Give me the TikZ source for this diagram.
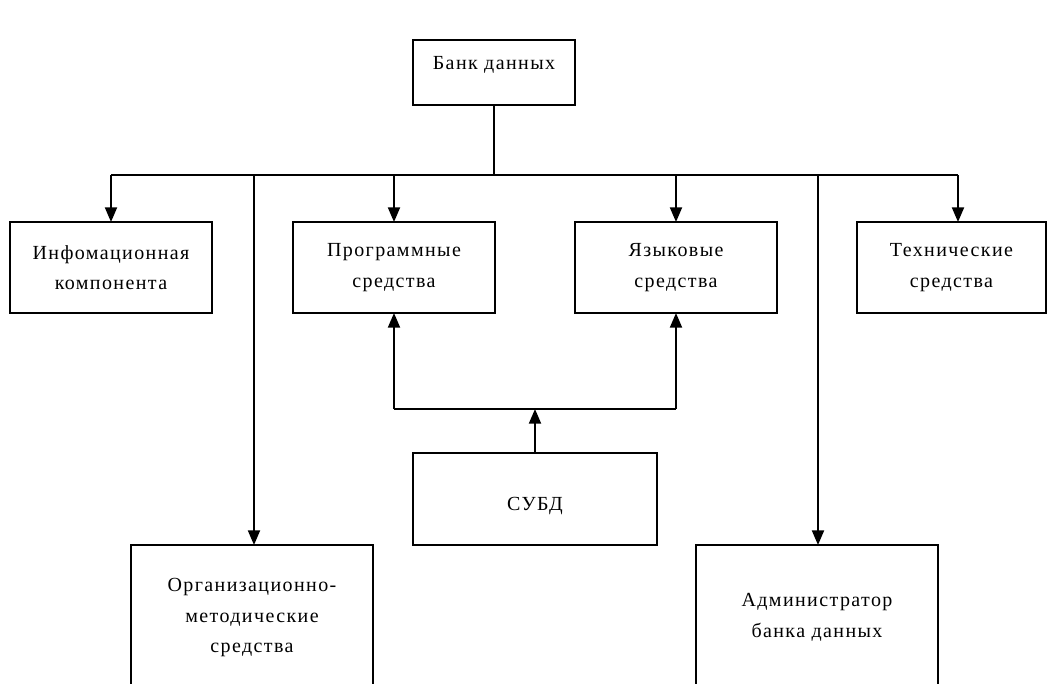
\documentclass[tikz,border=0pt]{standalone}
\usepackage{fontspec}
\setmainfont[LetterSpace=7]{Liberation Serif}
\usepackage{tikz}
\usetikzlibrary{arrows.meta}
\newcommand{\boxlinewidth}{1.125pt}
\tikzstyle{block}=[draw, line width=\boxlinewidth, inner sep=0, outer sep=0, align=center, font=\fontsize{15}{23}\selectfont,
                   % Push the text a little lower in its box.
                   execute at begin node={\rule{0pt}{20pt}}]
\tikzstyle{wide}=[block, minimum width=202*0.75pt, minimum height=91*0.75pt]
\tikzstyle{tall}=[block, minimum width=242*0.75pt, minimum height=145*0.75pt]
\tikzstyle{wire}=[line width=1.5pt]
\tikzstyle{link}=[wire, -{Triangle[length=11pt, width=9pt]}]
\tikzstyle{orgchart}=[x=0.75pt, y=-0.75pt]

\begin{document}
\begin{tikzpicture}[orgchart]
        \useasboundingbox (0, 0) rectangle (1047, 683);
        \clip (0, 0) rectangle (1047, 683);
        \node[draw, line width=\boxlinewidth, minimum width=162*0.75pt, minimum height=65*0.75pt] (bank) at (494, 72.5) {};
        \node[font=\fontsize{15}{23}\selectfont] (banktext) at ([yshift=6pt]bank.center) {Банк данных};
        \coordinate (bus) at (494, 175);
        \node[wide] (info) at (111, 267.5) {Инфомационная\\компонента};
        \node[wide] (prog) at (394, 267.5) {Программные\\средства};
        \node[wide] (lang) at (676, 267.5) {Языковые\\средства};
        \node[wide, minimum width=189*0.75pt] (tech) at (951.5, 267.5) {Технические\\средства};
        \node[wide, minimum width=244*0.75pt, minimum height=92*0.75pt] (dbms) at (535, 499) {СУБД};
        \node[tall] (org) at (252, 617.5) {Организационно-\\методические\\средства};
        \node[tall] (admin) at (817, 617.5) {Администратор\\банка данных};
        \coordinate (join) at (535, 409);
        % Bus from the data bank.
        \draw[wire] (bank.south) -- (bus);
        \draw[wire] (info.north |- bus) -- ([xshift=4.875pt]tech.north |- bus);
        \draw[link] (info.north |- bus) -- (info.north);
        \draw[link] (prog.north |- bus) -- (prog.north);
        \draw[link] (lang.north |- bus) -- (lang.north);
        \draw[link] ([xshift=4.875pt]tech.north |- bus) -- ([xshift=4.875pt]tech.north);
        \draw[link] ([xshift=1.5pt]org.north |- bus) -- ([xshift=1.5pt]org.north);
        \draw[link] ([xshift=0.75pt]admin.north |- bus) -- ([xshift=0.75pt]admin.north);
        % DBMS feeds both kinds of tools.
        \draw[link] (dbms.north) -- (join);
        \draw[link] (prog.south |- join) -- (prog.south);
        \draw[link] (lang.south |- join) -- (lang.south);
        \draw[wire] (prog.south |- join) -- (lang.south |- join);
    \end{tikzpicture}
\end{document}
